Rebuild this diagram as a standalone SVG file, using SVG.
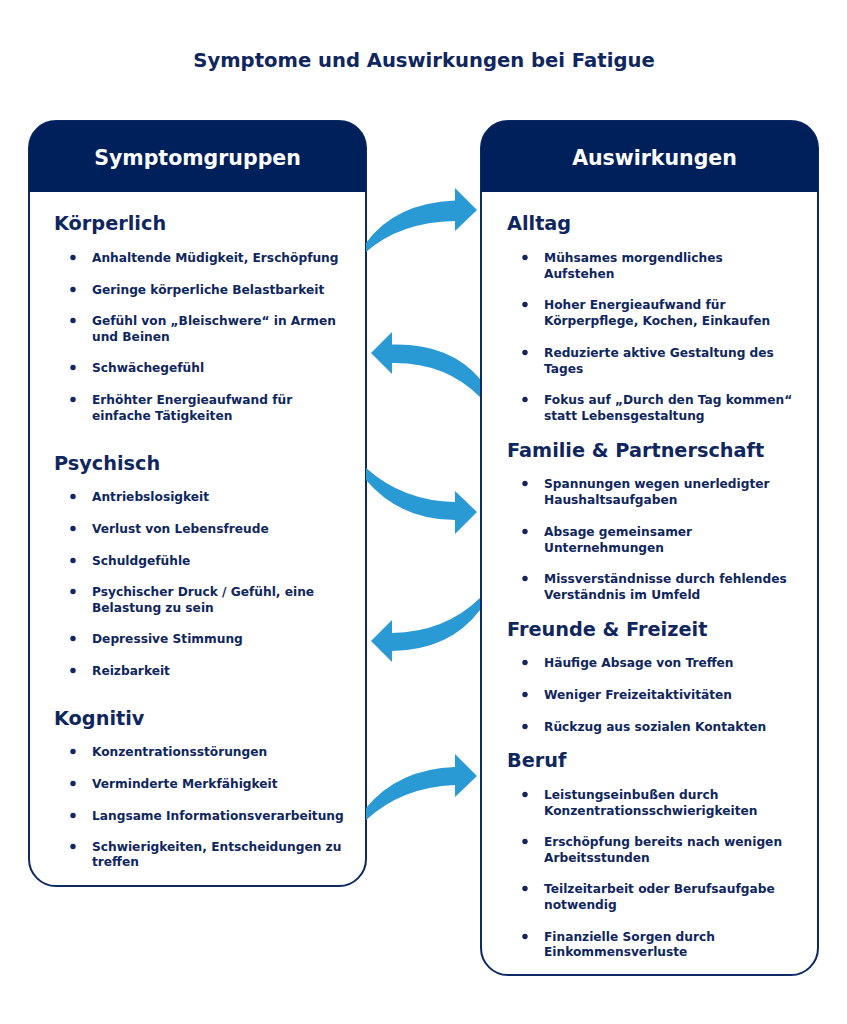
<svg xmlns="http://www.w3.org/2000/svg" width="847" height="1024" viewBox="0 0 847 1024">
<style>
text{font-family:"DejaVu Sans","Liberation Sans",sans-serif;font-weight:bold;fill:#10265e}
.title{font-size:19.6px}
.hdr{font-size:20.5px;fill:#ffffff}
.sec{font-size:19.3px}
.it{font-size:12.2px}
.box{fill:#ffffff;stroke:#0d2a64;stroke-width:2}
.head{fill:#00205c}
.dot{fill:#10265e}
.arr{fill:#2a9ad5}
</style>
<rect width="847" height="1024" fill="#ffffff"/>
<text class="title" x="424" y="67" text-anchor="middle">Symptome und Auswirkungen bei Fatigue</text>

<g id="symptomgruppen">
<rect class="box" x="29" y="121" width="337" height="765" rx="27"/>
<path class="head" d="M29,192 L29,148 A27,27 0 0 1 56,121 L339,121 A27,27 0 0 1 366,148 L366,192 Z"/>
<text class="hdr" x="197.5" y="165" text-anchor="middle">Symptomgruppen</text>
<text class="sec" x="54" y="230">Körperlich</text>
<circle class="dot" cx="73" cy="257.5" r="2.7"/><text class="it" x="92" y="262">Anhaltende Müdigkeit, Erschöpfung</text>
<circle class="dot" cx="73" cy="289.5" r="2.7"/><text class="it" x="92" y="294">Geringe körperliche Belastbarkeit</text>
<circle class="dot" cx="73" cy="320.5" r="2.7"/><text class="it" x="92" y="325">Gefühl von „Bleischwere“ in Armen</text><text class="it" x="92" y="341">und Beinen</text>
<circle class="dot" cx="73" cy="367.5" r="2.7"/><text class="it" x="92" y="372">Schwächegefühl</text>
<circle class="dot" cx="73" cy="399.5" r="2.7"/><text class="it" x="92" y="404">Erhöhter Energieaufwand für</text><text class="it" x="92" y="420">einfache Tätigkeiten</text>
<text class="sec" x="54" y="470">Psychisch</text>
<circle class="dot" cx="73" cy="496.5" r="2.7"/><text class="it" x="92" y="501">Antriebslosigkeit</text>
<circle class="dot" cx="73" cy="528.5" r="2.7"/><text class="it" x="92" y="533">Verlust von Lebensfreude</text>
<circle class="dot" cx="73" cy="560.5" r="2.7"/><text class="it" x="92" y="565">Schuldgefühle</text>
<circle class="dot" cx="73" cy="591.5" r="2.7"/><text class="it" x="92" y="596">Psychischer Druck / Gefühl, eine</text><text class="it" x="92" y="612">Belastung zu sein</text>
<circle class="dot" cx="73" cy="638.5" r="2.7"/><text class="it" x="92" y="643">Depressive Stimmung</text>
<circle class="dot" cx="73" cy="670.5" r="2.7"/><text class="it" x="92" y="675">Reizbarkeit</text>
<text class="sec" x="54" y="725">Kognitiv</text>
<circle class="dot" cx="73" cy="751.5" r="2.7"/><text class="it" x="92" y="756">Konzentrationsstörungen</text>
<circle class="dot" cx="73" cy="783.5" r="2.7"/><text class="it" x="92" y="788">Verminderte Merkfähigkeit</text>
<circle class="dot" cx="73" cy="815.5" r="2.7"/><text class="it" x="92" y="820">Langsame Informationsverarbeitung</text>
<circle class="dot" cx="73" cy="846.5" r="2.7"/><text class="it" x="92" y="851">Schwierigkeiten, Entscheidungen zu</text><text class="it" x="92" y="866">treffen</text>
</g>

<g id="auswirkungen">
<rect class="box" x="481" y="121" width="337" height="854" rx="27"/>
<path class="head" d="M481,192 L481,148 A27,27 0 0 1 508,121 L791,121 A27,27 0 0 1 818,148 L818,192 Z"/>
<text class="hdr" x="654.5" y="165" text-anchor="middle">Auswirkungen</text>
<text class="sec" x="507" y="230">Alltag</text>
<circle class="dot" cx="525" cy="257.5" r="2.7"/><text class="it" x="544" y="262">Mühsames morgendliches</text><text class="it" x="544" y="278">Aufstehen</text>
<circle class="dot" cx="525" cy="304.5" r="2.7"/><text class="it" x="544" y="309">Hoher Energieaufwand für</text><text class="it" x="544" y="325">Körperpflege, Kochen, Einkaufen</text>
<circle class="dot" cx="525" cy="352.5" r="2.7"/><text class="it" x="544" y="357">Reduzierte aktive Gestaltung des</text><text class="it" x="544" y="373">Tages</text>
<circle class="dot" cx="525" cy="399.5" r="2.7"/><text class="it" x="544" y="404">Fokus auf „Durch den Tag kommen“</text><text class="it" x="544" y="420">statt Lebensgestaltung</text>
<text class="sec" x="507" y="457">Familie &amp; Partnerschaft</text>
<circle class="dot" cx="525" cy="483.5" r="2.7"/><text class="it" x="544" y="488">Spannungen wegen unerledigter</text><text class="it" x="544" y="504">Haushaltsaufgaben</text>
<circle class="dot" cx="525" cy="531.5" r="2.7"/><text class="it" x="544" y="536">Absage gemeinsamer</text><text class="it" x="544" y="552">Unternehmungen</text>
<circle class="dot" cx="525" cy="578.5" r="2.7"/><text class="it" x="544" y="583">Missverständnisse durch fehlendes</text><text class="it" x="544" y="599">Verständnis im Umfeld</text>
<text class="sec" x="507" y="636">Freunde &amp; Freizeit</text>
<circle class="dot" cx="525" cy="662.5" r="2.7"/><text class="it" x="544" y="667">Häufige Absage von Treffen</text>
<circle class="dot" cx="525" cy="694.5" r="2.7"/><text class="it" x="544" y="699">Weniger Freizeitaktivitäten</text>
<circle class="dot" cx="525" cy="726.5" r="2.7"/><text class="it" x="544" y="731">Rückzug aus sozialen Kontakten</text>
<text class="sec" x="507" y="767">Beruf</text>
<circle class="dot" cx="525" cy="794.5" r="2.7"/><text class="it" x="544" y="799">Leistungseinbußen durch</text><text class="it" x="544" y="815">Konzentrationsschwierigkeiten</text>
<circle class="dot" cx="525" cy="841.5" r="2.7"/><text class="it" x="544" y="846">Erschöpfung bereits nach wenigen</text><text class="it" x="544" y="862">Arbeitsstunden</text>
<circle class="dot" cx="525" cy="888.5" r="2.7"/><text class="it" x="544" y="893">Teilzeitarbeit oder Berufsaufgabe</text><text class="it" x="544" y="909">notwendig</text>
<circle class="dot" cx="525" cy="936.5" r="2.7"/><text class="it" x="544" y="941">Finanzielle Sorgen durch</text><text class="it" x="544" y="956">Einkommensverluste</text>
</g>

<g id="connectors">
<path class="arr" d="M366,243 Q395,203 455,200.5 L455,188 L477,210 L455,231 L455,221 Q400,222 366,252 Z"/>
<path class="arr" d="M371,353 L392,332 L392,344.5 Q450,343 480,379 L480,397 Q445,362 392,363 L392,374 Z"/>
<path class="arr" d="M366,468 Q403,501 455,502 L455,491 L477,512 L455,534 L455,520 Q400,520 366,480 Z"/>
<path class="arr" d="M371,641 L392,620 L392,633 Q445,632 480,598 L480,610 Q450,650 392,651 L392,662 Z"/>
<path class="arr" d="M366,808 Q398,769 455,767 L455,754 L477,776 L455,797 L455,785 Q402,787 366,820 Z"/>
</g>
</svg>
